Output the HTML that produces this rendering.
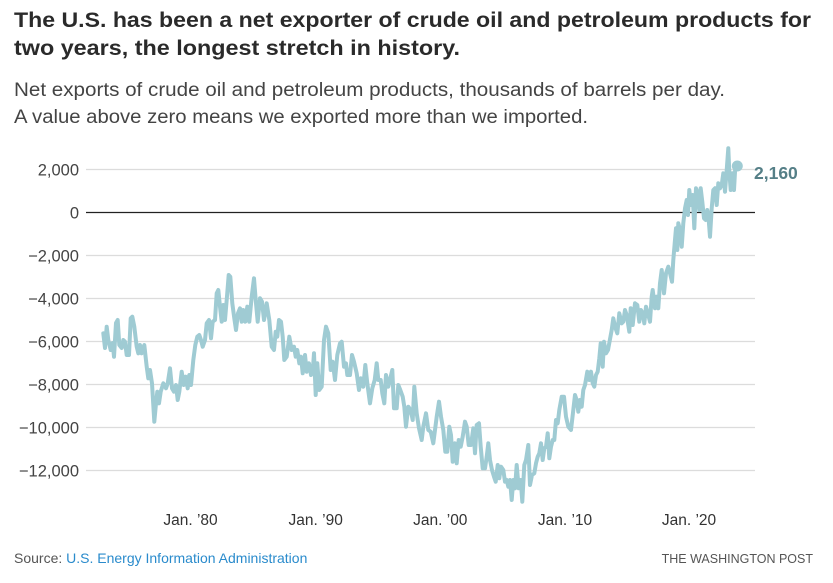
<!DOCTYPE html>
<html><head><meta charset="utf-8"><style>
html,body{margin:0;padding:0;background:#fff;}
svg{display:block;}
</style></head><body>
<svg width="833" height="583" viewBox="0 0 833 583" xmlns="http://www.w3.org/2000/svg" font-family="Liberation Sans, sans-serif">
<rect width="833" height="583" fill="#fff"/>
<text x="14" y="27" font-size="21" font-weight="bold" fill="#2a2a2a" textLength="797" lengthAdjust="spacingAndGlyphs">The U.S. has been a net exporter of crude oil and petroleum products for</text>
<text x="14" y="55" font-size="21" font-weight="bold" fill="#2a2a2a" textLength="446" lengthAdjust="spacingAndGlyphs">two years, the longest stretch in history.</text>
<text x="14" y="96" font-size="19" fill="#444" textLength="711" lengthAdjust="spacingAndGlyphs">Net exports of crude oil and petroleum products, thousands of barrels per day.</text>
<text x="14" y="123" font-size="19" fill="#444" textLength="574" lengthAdjust="spacingAndGlyphs">A value above zero means we exported more than we imported.</text>

<g stroke="#dcdcdc" stroke-width="1.2">
<line x1="86" y1="169.5" x2="755" y2="169.5"/>
<line x1="86" y1="255.5" x2="755" y2="255.5"/>
<line x1="86" y1="298.5" x2="755" y2="298.5"/>
<line x1="86" y1="341.5" x2="755" y2="341.5"/>
<line x1="86" y1="384.5" x2="755" y2="384.5"/>
<line x1="86" y1="427.5" x2="755" y2="427.5"/>
<line x1="86" y1="470.5" x2="755" y2="470.5"/>
</g>
<line x1="86" y1="212.5" x2="755" y2="212.5" stroke="#222" stroke-width="1.3"/>

<g font-size="16.5" fill="#444" text-anchor="end">
<text x="79" y="175.5">2,000</text>
<text x="79" y="218.5">0</text>
<text x="79" y="261.5">−2,000</text>
<text x="79" y="304.5">−4,000</text>
<text x="79" y="347.5">−6,000</text>
<text x="79" y="390.5">−8,000</text>
<text x="79" y="433.5">−10,000</text>
<text x="79" y="476.5">−12,000</text>
</g>

<polyline fill="none" stroke="#9fcbd3" stroke-width="4" stroke-linejoin="round" stroke-linecap="round" points="
103.3,333.3 105,348 106.7,326.7 108.3,340 110.7,350 112.7,343 114,356.7 116,323 117.7,320 119.3,345 121.7,348 123.3,340 125,341.7 126.7,355 129,355 130.7,318.3 132.3,316.7 134.3,326.7 136.7,346.7 138.3,353.3 140,345 141.7,353.3 144.3,345 146.7,366.7 148.3,378.3 150,370 152,383.3 154.3,421.7 155.7,406.7 157.3,391.7 159,403.3 160.7,391.7 163.3,383.3 166,388.3 167.7,383.3 170,368.3 172,388.3 174,391.7 176,385 177.7,400 179.3,391.7 181.7,371.7 183.7,385 185.7,376.7 187.7,388.3 189.3,375 191,385 193.3,360 195.3,345 197.3,336.7 199.3,335 201,340 202.7,346.7 205,340 206.7,323.3 209,320 211,338.3 212.7,321.7 215,320 216.7,293.3 218.3,290 220,306.7 221.7,321.7 223.3,305 225,320 226.7,300 228.7,275 230.3,276.7 232.3,303.3 234.3,318.3 236,330 238,313.3 240,308.3 241.7,321.7 243.3,310 245.3,321.7 247.3,306.7 249.3,321.7 251.7,296.7 254,278.3 255.7,300 257.7,321.7 260,298.3 262,301.7
264,320 266.7,303.3 269.3,320 271.7,346.7 274,350 275.7,331.7 277.3,336.7 279,320 281,321.7 282.7,336.7 284.3,360 286.7,356.7 289.3,336.7 291.7,350 294,346.7 295.7,356.7 297.3,350 299.3,363.3 301,356.7 302.7,373.3 305,355 306.7,371.7 309,363.3 311,375 312.7,371.7 314,353.3 315.7,395 317.3,363.3 319.3,390 321.7,386.7 324,340 326,326.7 328.3,333.3 330.7,370 332.7,361.7 335,380 337.3,355 340,343.3 341.7,341.7 344,366.7 346,363.3 347.3,375 350,375 352,355 354,361.7 356.7,373.3 359,390 361,378.3 363.3,386.7 365.3,365 367.3,383.3 370,403.3 372.3,388.3 374.7,380 376.7,363.3 378.3,380 380.7,380 382.3,393.3 384.3,403.3 386,375 388.3,386.7 390.7,376.7 392.3,370 394,408.3 396.7,408.3 398.3,385 400.3,390 402.7,396.7 404.3,406.7 406,426.7 408.3,406.7 410.7,410 412.7,420 414.3,386.7 416.7,413.3 419,428.3 421.7,440 423.3,426.7 426,413.3 428.3,430 430.7,431.7 433.3,443.3
436.7,416.7 439,401.7 441,416.7 443.3,430 445.3,451.7 447.3,451.7 449.3,426.7 451,435 452.7,461.7 455,443.3 456.7,463.3 458.7,440 460.7,446.7 462.7,436.7 465,421.7 466.7,426.7 468.7,445 471,445 473.3,428.3 475,453.3 476.7,425 479,423.3 480.7,446.7 482.7,468.3 485,468.3 486.7,456.7 488.3,443.3 490,460 492,470 494,476.7 495.7,481.7 497.7,465 499.3,478.3 501,466.7 503.3,470 505,481.7 506.7,480 508.3,486.7 510,480 511.7,500 513.3,480 515,488.3 516.7,465 518.7,488.3 520.7,480 522.3,501.7 524.3,465 526,460 528.3,445 530,485 532,475 534.3,473.3 536,463.3 537.7,456.7 539.3,453.3 541,443.3 542.7,460 544.3,448.3 546,446.7 547.7,433.3 549.3,458.3 551,446.7 552.7,440 554.3,440 556,420 557.7,423.3 559.3,410 561.7,396.7 564,396.7 566,416.7 568.3,426.7 571,430 573.3,410 575,395 576.7,400 578.3,411.7 580,400 581.7,406.7 583.3,390 585,385 587.3,371.7 589.3,380 591,371.7 592.7,383.3 594.3,386.7 596,375 597.7,371.7 599.3,358.3 600.7,343.3 602.7,366.7 604,341.7 606,353.3 608,350
611.7,330 613.3,318.3 615,326.7 617.3,333.3 619.3,313.3 621.7,323.3 623.3,321.7 625,310 626.7,315 629.3,331.7 630.7,308.3 632.7,325 635,303.3 637.3,305 639.3,321.7 641,310 642.7,313.3 644.3,323.3 646,306.7 648.3,315 650,321.7 651.7,296.7 652.7,290 655,308.3 656.7,296.7 658.3,308.3 660,283.3 661.7,270 664,293.3 666,273.3 668.3,266.7 670,273.3 672,281.7 673.3,260 674.7,243.3 676,228.3 677.3,250 678.3,223.3 680,230 681.7,246.7 683.3,223.3 685,208.3 686.7,200 688,215 689.3,190 691,205 692.7,195 694.3,228.3 696,188.3 697.7,193.3 699.3,210 700.7,188.3 702.3,201.7 704,218.3 705.7,220 707.3,210 708.7,220 710,236.7 711.7,208.3 713.3,190 715,188.3 716.7,205 718.3,183.3 720,188.3 721.7,185 723.3,173.3 725,191.7 726.7,170 728.3,148.3 729.3,171.7 730.7,190 732.3,173.3 734,190 735.3,166.7 737.3,166"/>
<circle cx="737.3" cy="166" r="5.5" fill="#9fcbd3"/>
<text x="754" y="179" font-size="17.5" font-weight="bold" fill="#557f87">2,160</text>

<g font-size="15.5" fill="#333" text-anchor="middle">
<text x="190.5" y="525">Jan. ’80</text>
<text x="315.7" y="525">Jan. ’90</text>
<text x="440.3" y="525">Jan. ’00</text>
<text x="565" y="525">Jan. ’10</text>
<text x="689" y="525">Jan. ’20</text>
</g>

<text x="14" y="563" font-size="14" fill="#555">Source: <tspan fill="#2a8bcc">U.S. Energy Information Administration</tspan></text>
<text x="813" y="563" font-size="12.5" fill="#555" text-anchor="end">THE WASHINGTON POST</text>
</svg>
</body></html>
